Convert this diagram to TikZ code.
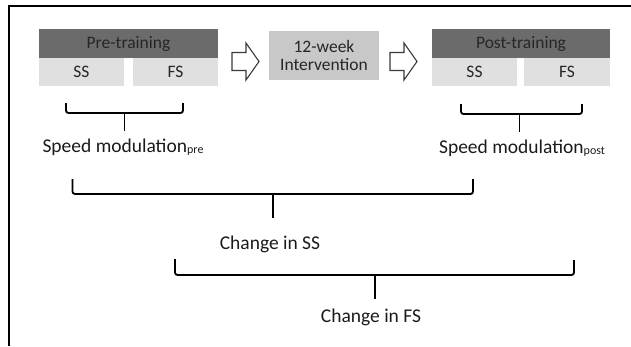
\documentclass[tikz,border=0pt]{standalone}
\usepackage{fontspec}
\setmainfont{Carlito}
\begin{document}
\begin{tikzpicture}[x=1pt,y=-1pt,
  headbox/.style={fill=headgray,text=boxtext,inner sep=0pt,
    font=\fontsize{17.5}{20}\selectfont},
  cellbox/.style={fill=cellgray,text=boxtext,inner sep=0pt,
    font=\fontsize{17.5}{20}\selectfont},
  midbox/.style={fill=midgray,text=boxtext,inner sep=0pt,align=center,
    font=\fontsize{17.5}{18}\selectfont},
  lbl/.style={text=labeltext,inner sep=0pt,anchor=base,
    font=\fontsize{19.5}{22}\selectfont},
  brk/.style={draw=black,line width=1.8pt,rounded corners=2.5pt},
  stem/.style={draw=black,line width=1.8pt},
  hollow/.style={draw=arrowline,fill=white,line width=1.1pt,line join=miter},
]
\definecolor{headgray}{HTML}{6B6B6B}
\definecolor{cellgray}{HTML}{E0E0E0}
\definecolor{midgray}{HTML}{C8C8C8}
\definecolor{boxtext}{HTML}{262626}
\definecolor{labeltext}{HTML}{1A1A1A}
\definecolor{arrowline}{HTML}{3A3A3A}

\useasboundingbox (0,0) rectangle (631,346);

% frame edges
\draw[line width=1.5pt] (9,346) -- (9,6) -- (631,6);

% pre-training block
\node[headbox,minimum width=179pt,minimum height=29pt] (prehead) at (128.5,43.5) {Pre-training};
\node[cellbox,minimum width=85pt,minimum height=28pt] (press) at (81.5,72) {SS};
\node[cellbox,minimum width=85pt,minimum height=28pt] (prefs) at (175.5,72) {FS};

% intervention
\node[midbox,minimum width=110pt,minimum height=49pt] (inter) at (324,55.5) {12-week\\Intervention};

% post-training block
\node[headbox,minimum width=178pt,minimum height=29pt] (posthead) at (521,43.5) {Post-training};
\node[cellbox,minimum width=85pt,minimum height=28pt] (postss) at (474.5,72) {SS};
\node[cellbox,minimum width=86pt,minimum height=28pt] (postfs) at (567,72) {FS};

% hollow arrows between stages
\draw[hollow] (232,52.5) -- (246,52.5) -- (246,43) -- (259,61.5) -- (246,80) -- (246,70.5) -- (232,70.5) -- cycle;
\draw[hollow] (390,52.5) -- (404,52.5) -- (404,43) -- (417,61.5) -- (404,80) -- (404,70.5) -- (390,70.5) -- cycle;

% labels
\node[lbl] (modpre) at (123,152) {Speed modulation\raisebox{-1.2pt}{\fontsize{12}{13}\selectfont pre}};
\node[lbl] (modpost) at (522,153) {Speed modulation\raisebox{-1.2pt}{\fontsize{12}{13}\selectfont post}};
\node[lbl] (chss) at (270,249) {Change in SS};
\node[lbl] (chfs) at (371,322) {Change in FS};

% brackets
\draw[brk] (66,103) -- (66,113) -- (183,113) -- (183,103);
\draw[stem] (124.5,113) -- (124.5,131);
\draw[brk] (461,104) -- (461,114) -- (582,114) -- (582,104);
\draw[stem] (519.5,114) -- (519.5,132);
\draw[brk] (72.5,179) -- (72.5,194) -- (473,194) -- (473,179);
\draw[stem] (273,194) -- (273,218);
\draw[brk] (175,259) -- (175,275) -- (574,275) -- (574,260);
\draw[stem] (375,275) -- (375,299);
\end{tikzpicture}
\end{document}
